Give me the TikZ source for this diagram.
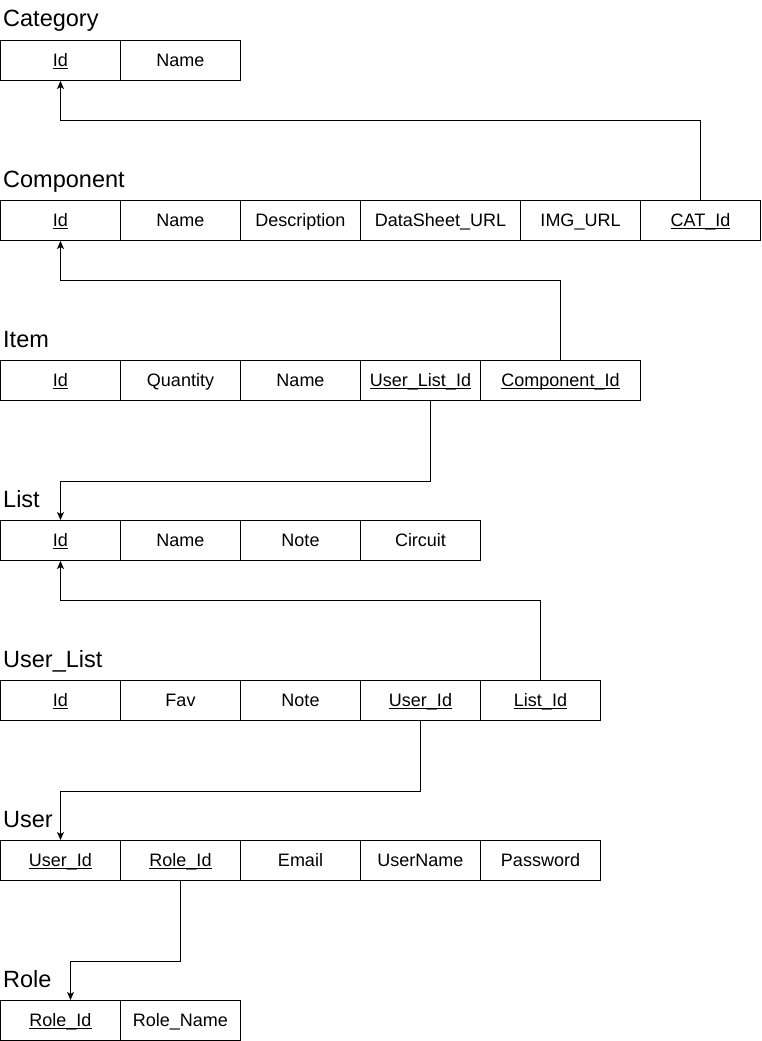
\documentclass[tikz,border=0pt]{standalone}
\usepackage{fontspec}
\setmainfont{Liberation Sans}
\usetikzlibrary{arrows.meta}
\newcommand{\pk}[1]{\underline{\smash{#1}}}
\tikzset{
  cell/.style={draw, line width=1pt, inner sep=0pt, minimum height=40pt,
    minimum width=#1pt, anchor=north west, text height=16pt, text depth=4pt,
    font=\fontsize{18}{20}\selectfont},
  cell/.default=120,
  title/.style={anchor=base west, inner sep=0pt, font=\fontsize{23.5}{26}\selectfont},
  fk/.style={draw, line width=1pt, -{Stealth[length=8pt,width=7pt,inset=2pt]}}
}
\begin{document}
\begin{tikzpicture}[x=1pt,y=-1pt]
\useasboundingbox (0,0) rectangle (761,1041);
% Category
\node[title] (tCat) at (3,27) {Category};
\node[cell] (catId) at (0,40) {\pk{Id}};
\node[cell] (catName) at (120,40) {Name};
% Component
\node[title] (tComp) at (3,187) {Component};
\node[cell] (compId) at (0,200) {\pk{Id}};
\node[cell] (compName) at (120,200) {Name};
\node[cell] (compDesc) at (240,200) {Description};
\node[cell=160] (compDS) at (360,200) {DataSheet\_URL};
\node[cell] (compImg) at (520,200) {IMG\_URL};
\node[cell] (compCat) at (640,200) {\pk{CAT\_Id}};
% Item
\node[title] (tItem) at (3,347) {Item};
\node[cell] (itemId) at (0,360) {\pk{Id}};
\node[cell] (itemQty) at (120,360) {Quantity};
\node[cell] (itemName) at (240,360) {Name};
\node[cell] (itemUL) at (360,360) {\pk{User\_List\_Id}};
\node[cell=160] (itemComp) at (480,360) {\pk{Component\_Id}};
% List
\node[title] (tList) at (3,507) {List};
\node[cell] (listId) at (0,520) {\pk{Id}};
\node[cell] (listName) at (120,520) {Name};
\node[cell] (listNote) at (240,520) {Note};
\node[cell] (listCirc) at (360,520) {Circuit};
% User_List
\node[title] (tUL) at (3,667) {User\_List};
\node[cell] (ulId) at (0,680) {\pk{Id}};
\node[cell] (ulFav) at (120,680) {Fav};
\node[cell] (ulNote) at (240,680) {Note};
\node[cell] (ulUser) at (360,680) {\pk{User\_Id}};
\node[cell] (ulList) at (480,680) {\pk{List\_Id}};
% User
\node[title] (tUser) at (3,827) {User};
\node[cell] (userId) at (0,840) {\pk{User\_Id}};
\node[cell] (userRole) at (120,840) {\pk{Role\_Id}};
\node[cell] (userEmail) at (240,840) {Email};
\node[cell] (userName) at (360,840) {UserName};
\node[cell] (userPw) at (480,840) {Password};
% Role
\node[title] (tRole) at (3,987) {Role};
\node[cell] (roleId) at (0,1000) {\pk{Role\_Id}};
\node[cell] (roleName) at (120,1000) {Role\_Name};
% connectors
\draw[fk] (compCat.north) -- ++(0,-80) -| (catId.south);
\draw[fk] (itemComp.north) -- ++(0,-80) -| (compId.south);
\draw[fk] ([xshift=10pt]itemUL.south) -- ++(0,80) -| (listId.north);
\draw[fk] (ulList.north) -- ++(0,-80) -| (listId.south);
\draw[fk] (ulUser.south) -- ++(0,70) -| (userId.north);
\draw[fk] (userRole.south) -- ++(0,80) -| ([xshift=10pt]roleId.north);
\end{tikzpicture}
\end{document}
